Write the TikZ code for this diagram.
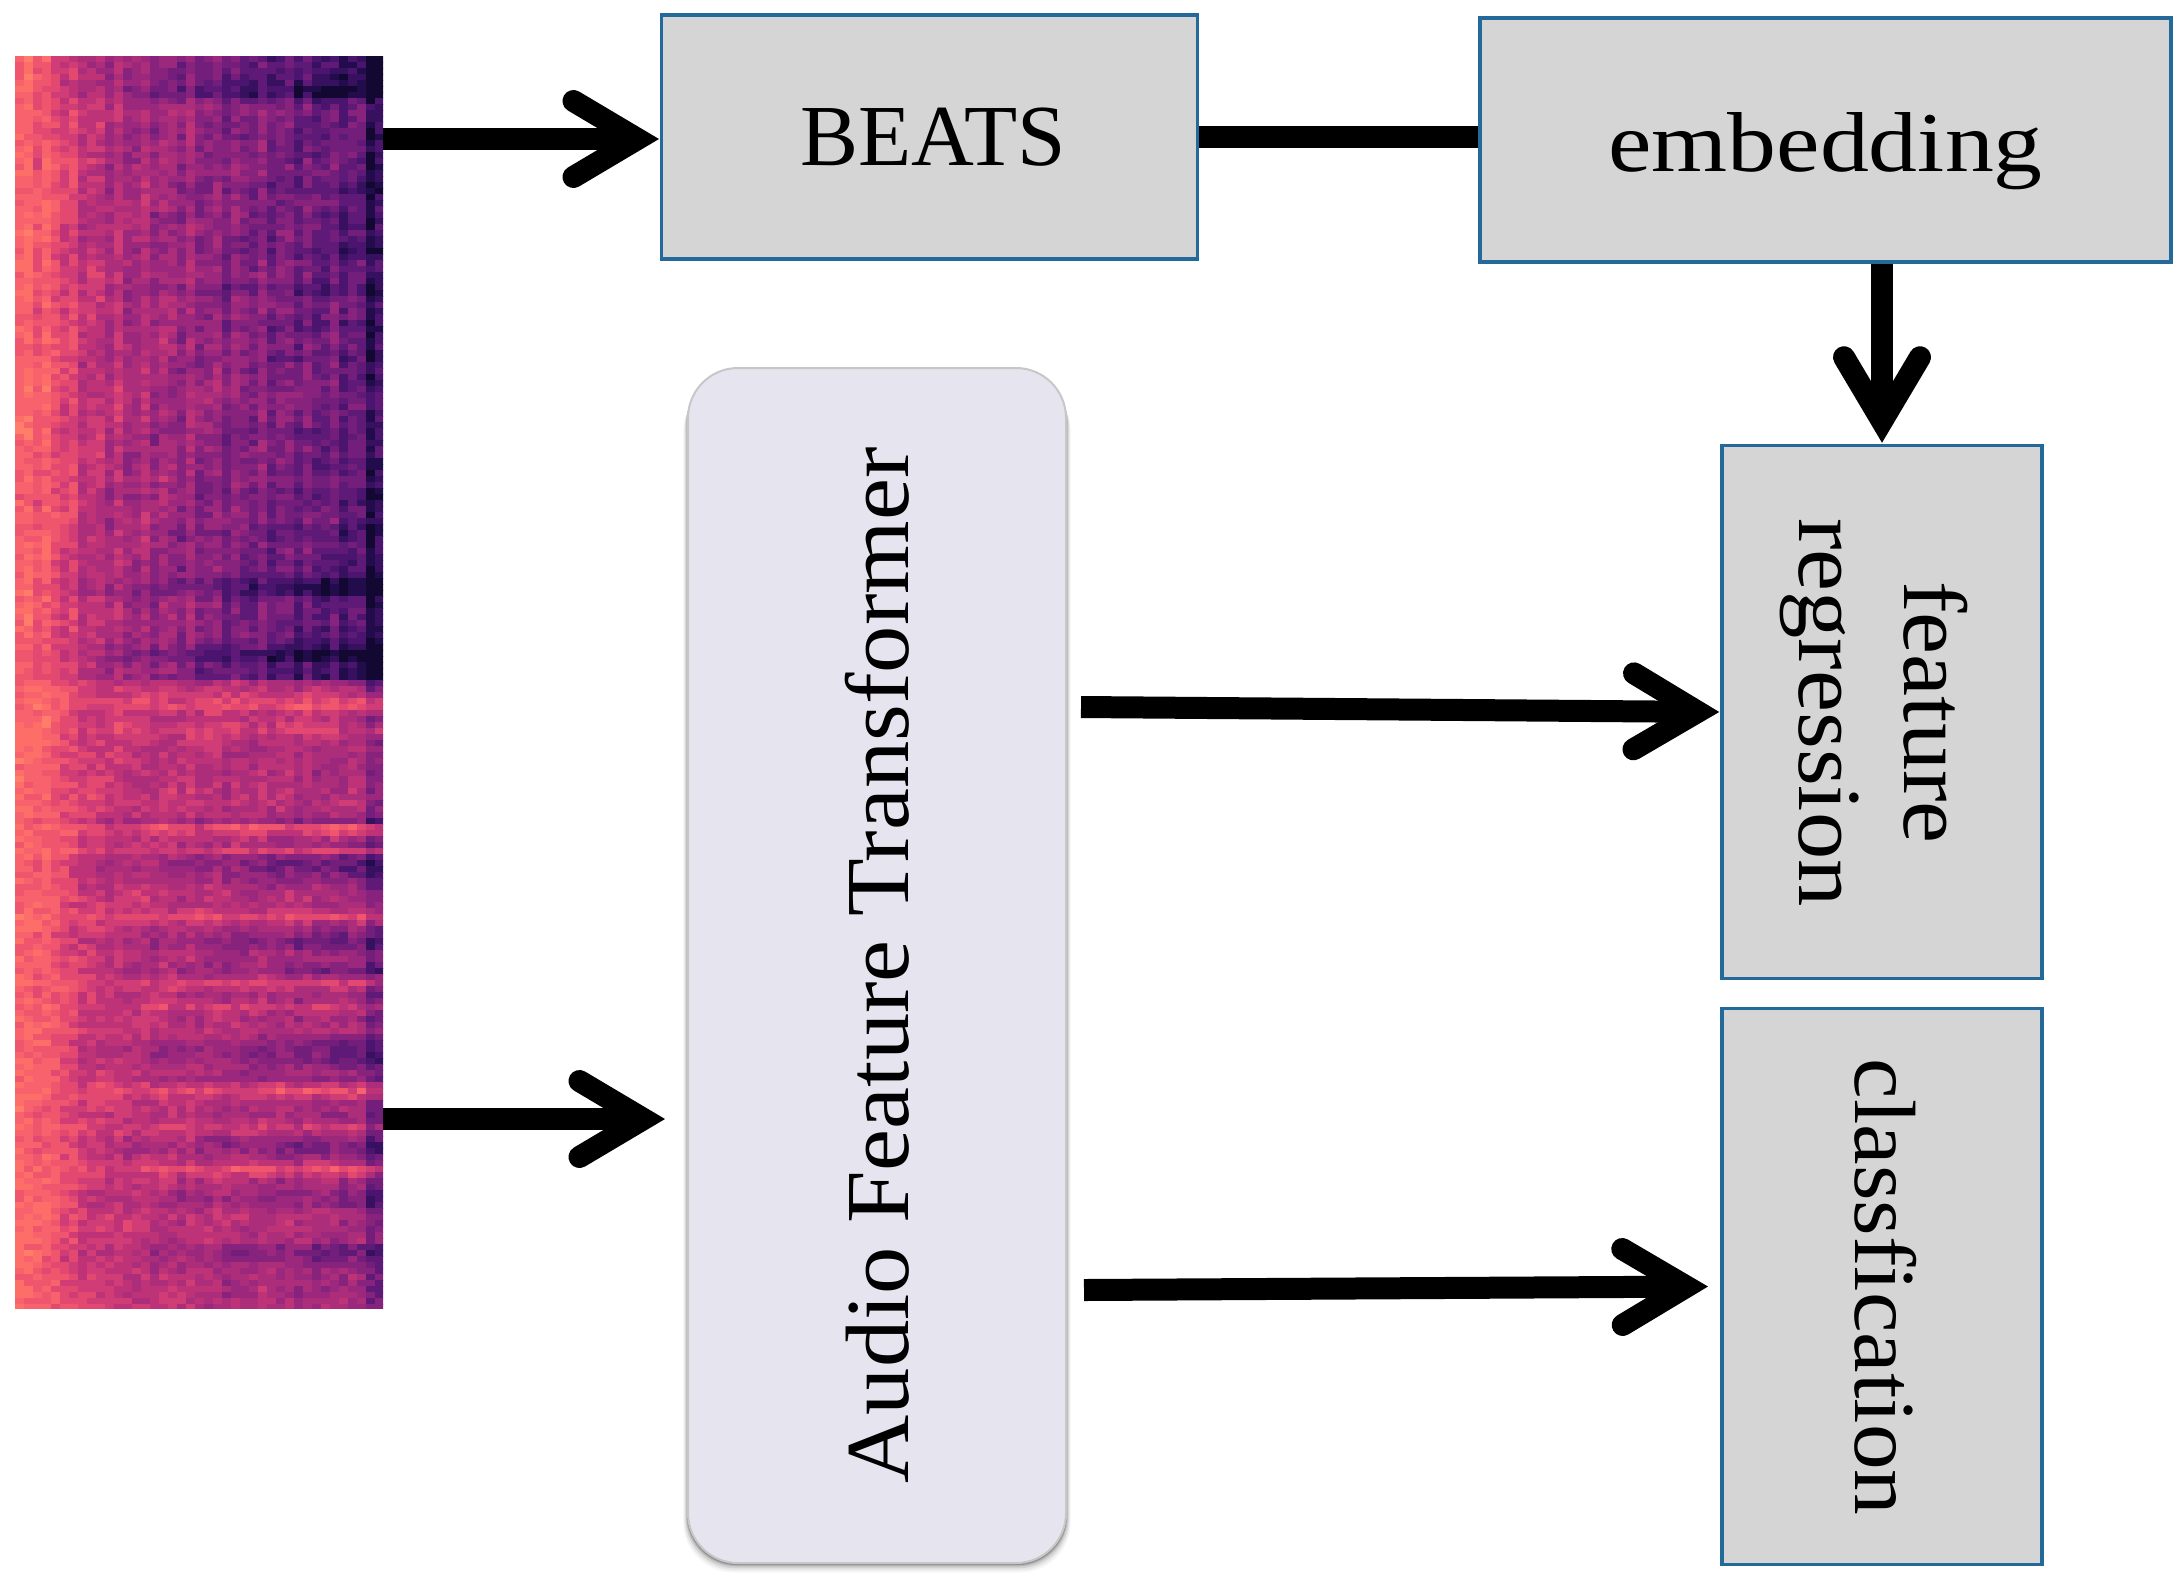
\documentclass[tikz,border=0pt]{standalone}
\usepackage{fontspec}
\setmainfont{Liberation Serif}
\newfontfamily\plainserif{Liberation Serif}
\newfontfamily\midserif[FakeStretch=1.05]{Liberation Serif}
\newfontfamily\wideserif[FakeStretch=1.15]{Liberation Serif}
\usetikzlibrary{arrows.meta}
\definecolor{boxblue}{HTML}{236A9B}
\definecolor{boxgrey}{HTML}{D5D5D5}
\definecolor{lilac}{HTML}{E6E5EF}
\definecolor{spec0}{RGB}{18,8,50}
\definecolor{spec1}{RGB}{35,12,75}
\definecolor{spec2}{RGB}{55,16,95}
\definecolor{spec3}{RGB}{75,20,110}
\definecolor{spec4}{RGB}{95,25,118}
\definecolor{spec5}{RGB}{115,30,122}
\definecolor{spec6}{RGB}{135,35,125}
\definecolor{spec7}{RGB}{155,40,125}
\definecolor{spec8}{RGB}{172,45,122}
\definecolor{spec9}{RGB}{190,50,120}
\definecolor{spec10}{RGB}{208,60,118}
\definecolor{spec11}{RGB}{226,72,112}
\definecolor{spec12}{RGB}{240,85,110}
\definecolor{spec13}{RGB}{248,98,108}
\definecolor{spec14}{RGB}{254,110,105}
\definecolor{spec15}{RGB}{255,125,105}
\tikzset{
  x=1pt,y=-1pt,
  greybox/.style={draw=boxblue,line width=3.5pt,fill=boxgrey,inner sep=0pt,align=center,text=black},
  softbox/.style={fill=lilac,draw=black!22,line width=2pt,rounded corners=50pt,inner sep=0pt,text=black},
  flow/.style={line width=22pt,black},
  flowtip/.style={flow,-{Straight Barb[length=64pt,width=76pt,line width=22pt,line cap=round,line join=miter]},shorten >=1pt},
}
\begin{document}
\begin{tikzpicture}
\useasboundingbox (0,0) rectangle (2184,1583);
% spectrogram
\begin{scope}
\clip (15,56) rectangle (383,1308);
\fill[spec8] (15,56) rectangle (383,1308);
\pgfmathsetseed{11}
\foreach \rv [count=\rr from 0] in {
-.1,-.1,-.12,-.15,-.2,-.25,-.25,-.05,.02,.02,
0,0,-.02,-.05,0,.02,0,0,.02,.02,
0,-.03,-.05,0,.02,.02,-.02,-.04,0,0,
-.02,-.05,-.08,-.05,0,.02,.02,-.02,-.08,-.06,
0,.02,.02,0,-.03,-.02,.02,.03,.03,0,
-.02,0,.02,.03,.04,.03,.05,.05,.04,.03,
.02,0,-.03,-.02,0,.02,0,-.02,-.03,0,
.02,0,-.04,-.05,-.03,0,.02,0,-.05,-.08,
-.04,0,-.02,-.05,-.08,-.05,-.1,-.18,-.22,-.2,
-.08,-.03,-.02,-.02,-.03,-.05,-.05,-.08,-.18,-.3,
-.25,-.12,-.12,-.15,-.05,.05,.1,.2,.25,.1,
.05,.1,.15,.08,.02,0,0,.02,0,0,
0,.02,.02,.04,.04,.02,0,-.12,.25,.15,
0,-.02,.15,-.12,-.2,-.2,-.15,-.1,-.05,0,
.02,0,.08,.22,.05,-.05,-.12,-.18,-.15,-.05,
-.05,-.1,-.15,0,.15,.05,-.05,0,.12,.02,
-.02,0,.02,-.08,-.15,-.18,-.18,-.15,-.1,-.05,
-.12,.1,.22,.1,-.02,0,-.05,0,.12,.05,
-.08,-.15,-.15,-.05,.05,.22,.1,-.02,-.03,-.08,
-.12,-.1,0,.02,0,.02,0,-.02,-.15,-.18,
-.15,-.08,-.05,-.02,-.05,-.03,-.05,-.02,0}{
  \foreach \cc in {0,...,40}{
    \pgfmathsetmacro\tq{\cc/40}
    \pgfmathsetmacro\aq{\tq/.13}
    \pgfmathsetmacro\vv{(\rr<104 ? .65-.40*\tq+.06*sin(\cc*137) : .66-.16*\tq+.02*sin(\cc*137))
       +.22/(1+\aq*\aq*\aq*\aq)+\rv*(.1+1.1*\tq)+.16*(rnd-.5)+.03*sin(\rr*13+\cc*37)-(\cc>38 ? .14 : 0)}
    \pgfmathtruncatemacro\ii{max(0,min(15,round(\vv*15)))}
    \fill[spec\ii] ({15+9*\cc},{56+6*\rr}) rectangle +(10,7);
  }
}
\end{scope}
\node[inner sep=0pt,minimum width=368pt,minimum height=1252pt] (spec) at (199,682) {};
% shadow of the rounded panel
\foreach \gg/\oo in {14/.04,11/.06,8/.09,5/.14,3/.2}{
  \fill[black,opacity=\oo,rounded corners=50pt] (688-\gg/3,368+\gg) rectangle (1066+\gg/3,1563+\gg/1.5);
}
% boxes
\node[greybox,minimum width=536pt,minimum height=244pt] (beats) at (929.6,137) {\hspace*{7pt}\fontsize{87}{90}\plainserif BEATS};
\node[greybox,minimum width=691pt,minimum height=244pt] (embed) at (1825.5,140) {\raisebox{-31pt}[0pt][0pt]{\fontsize{85}{90}\wideserif embedding}};
\node[greybox,minimum width=320pt,minimum height=533pt] (feat) at (1882,712) {};
\node[greybox,minimum width=320pt,minimum height=556pt] (cls) at (1882,1286.5) {};
\node[softbox,rotate=90,minimum width=1195pt,minimum height=378pt] (aft) at (877,965.5) {\fontsize{90}{96}\midserif Audio Feature Transformer};
\node[rotate=-90,inner sep=0pt,anchor=base] (feattop) at (1904,712.5) {\fontsize{90}{96}\midserif feature};
\node[rotate=-90,inner sep=0pt,anchor=base] (featbot) at (1799,712.5) {\fontsize{90}{96}\midserif regression};
\node[rotate=-90,inner sep=0pt,anchor=base] (clstext) at (1855,1287) {\fontsize{87}{96}\midserif classfication};
% free ends
\coordinate (specout1) at (383,139);
\coordinate (beatsin) at (660,139);
\coordinate (specout2) at (383,1119);
\coordinate (aftin) at (666,1119);
\coordinate (aftout1) at (1081,707);
\coordinate (aftout2) at (1084,1290);
\coordinate (clsin) at (1709,1286.5);
% connectors
\draw[flowtip] (specout1) -- (beatsin);
\draw[flow] (beats.east) -- (embed.west |- beats.east);
\draw[flowtip] (feat.north |- embed.south) -- (feat.north);
\draw[flowtip] (specout2) -- (aftin);
\draw[flowtip] (aftout1) -- (feat.west);
\draw[flowtip] (aftout2) -- (clsin);
\end{tikzpicture}
\end{document}
